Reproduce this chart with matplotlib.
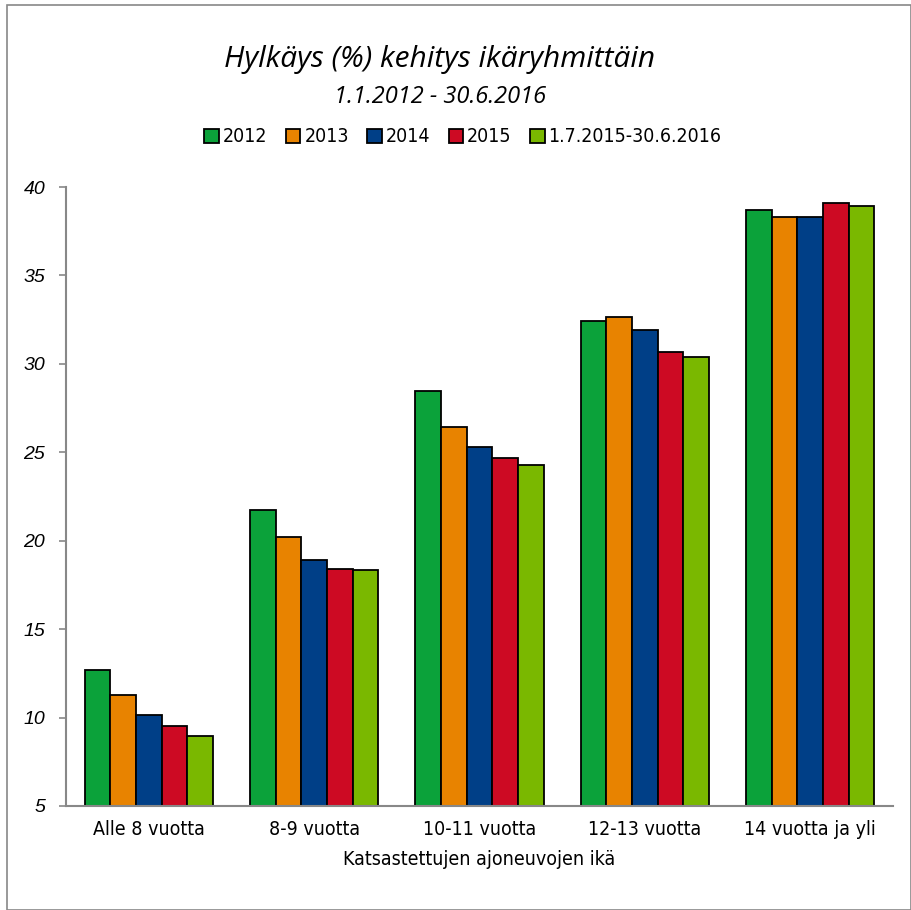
import matplotlib
matplotlib.use("Agg")
import matplotlib.pyplot as plt
import numpy as np
from matplotlib.patches import Rectangle
from matplotlib.font_manager import FontProperties

categories = ["Alle 8 vuotta", "8-9 vuotta", "10-11 vuotta", "12-13 vuotta", "14 vuotta ja yli"]
series_names = ["2012", "2013", "2014", "2015", "1.7.2015-30.6.2016"]
v2012 = [12.7, 21.75, 28.45, 32.45, 38.7]
v2013 = [11.3, 20.2, 26.45, 32.65, 38.3]
v2014 = [10.15, 18.9, 25.3, 31.9, 38.3]
v2015 = [9.5, 18.4, 24.7, 30.65, 39.1]
v2016 = [8.95, 18.35, 24.3, 30.4, 38.95]
colors = ["#0ba23a", "#e88300", "#003f87", "#cd0a23", "#7ab800"]
yticks = [5, 10, 15, 20, 25, 30, 35, 40]

def narrow(size):
    return FontProperties(family="DejaVu Sans", stretch="condensed", size=size)

fig = plt.figure(figsize=(9.12, 9.10), dpi=100)
fig.patches.append(Rectangle((7/912, 0), 1 - 7/912 - 1/912, 1 - 5/910, transform=fig.transFigure,
                             fill=False, edgecolor="#888888", lw=1.2))
ax = fig.add_axes([66/912, 1 - 806/910, (893 - 66)/912, (806 - 187)/910])

data = [v2012, v2013, v2014, v2015, v2016]
x = np.arange(len(categories))
w = 0.155
for i, (vals, c, n) in enumerate(zip(data, colors, series_names)):
    ax.bar(x + (i - 2) * w, np.array(vals) - 5, bottom=5, width=w, color=c,
           edgecolor="black", linewidth=1.3, label=n)

ax.set_xlim(-0.5, len(categories) - 0.5)
ax.set_ylim(5, 40)
ax.set_yticks(yticks)
ax.set_yticklabels([str(t) for t in yticks], fontsize=14, style="italic",
                   family=["Liberation Sans", "DejaVu Sans"])
ax.set_xticks(x)
ax.set_xticklabels(categories, fontproperties=narrow(14))
ax.tick_params(axis="x", length=0, pad=10)
ax.tick_params(axis="y", length=5, color="#888888", width=1.2, pad=10)
for s in ["top", "right"]:
    ax.spines[s].set_visible(False)
for s in ["left", "bottom"]:
    ax.spines[s].set_color("#888888")
    ax.spines[s].set_linewidth(1.5)
ax.set_xlabel("Katsastettujen ajoneuvojen ikä", fontproperties=narrow(14), labelpad=8)

fig.text(440/912, 1 - 60/910, "Hylkäys (%) kehitys ikäryhmittäin", ha="center", va="center",
         fontsize=21.5, style="italic", family=["Open Sans", "DejaVu Sans"])
fig.text(440/912, 1 - 97/910, "1.1.2012 - 30.6.2016", ha="center", va="center",
         fontsize=17, style="italic", family=["Open Sans", "DejaVu Sans"])

leg = fig.legend(loc="center", bbox_to_anchor=(463/912, 1 - 137/910), ncol=5, frameon=False,
                 prop=narrow(14), handlelength=0.75, handleheight=0.75,
                 handletextpad=0.2, columnspacing=0.95)

fig.savefig("out.png", dpi=100)
